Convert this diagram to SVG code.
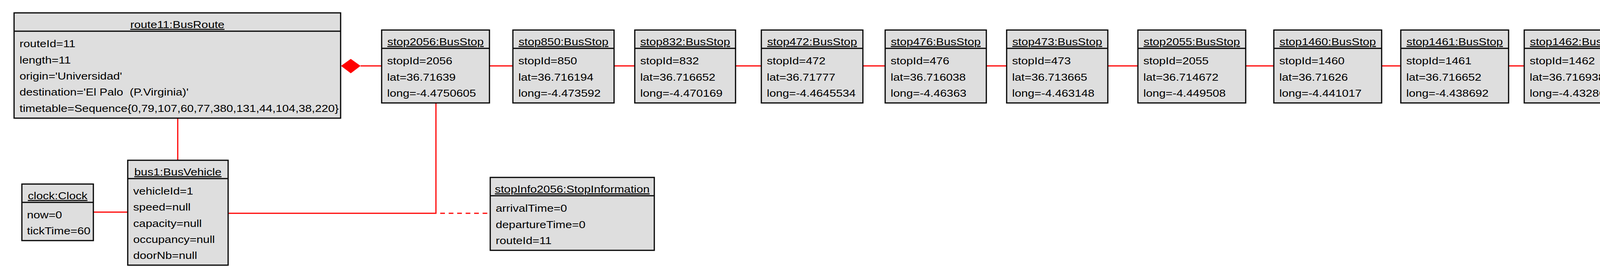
<svg xmlns="http://www.w3.org/2000/svg" width="4512" height="695" viewBox="0 0 4512 695">
<style>
.box{fill:#dedede;stroke:#000;stroke-width:3}
.div{stroke:#000;stroke-width:3}
text{font-family:"Liberation Sans",Arial,Helvetica,sans-serif;font-size:26.5px;fill:#000}
.ttl{text-anchor:middle;text-decoration:underline}
.lnk{stroke:#f00;stroke-width:3;fill:none}
.dsh{stroke-dasharray:12 9.7}
</style>
<rect x="0" y="0" width="4512" height="695" fill="#fff"/>
<g id="connectors">
<polygon points="873,169 898,151 923,169 898,188" fill="#f00"/>
<line class="lnk" x1="923" y1="169" x2="977" y2="169"/>
<line class="lnk" x1="1253" y1="169" x2="1313" y2="169"/>
<line class="lnk" x1="1572" y1="169" x2="1625" y2="169"/>
<line class="lnk" x1="1883" y1="169" x2="1949" y2="169"/>
<line class="lnk" x1="2209" y1="169" x2="2266" y2="169"/>
<line class="lnk" x1="2525" y1="169" x2="2577" y2="169"/>
<line class="lnk" x1="2836" y1="169" x2="2913" y2="169"/>
<line class="lnk" x1="3189" y1="169" x2="3261" y2="169"/>
<line class="lnk" x1="3537" y1="169" x2="3586" y2="169"/>
<line class="lnk" x1="3862" y1="169" x2="3902" y2="169"/>
<line class="lnk" x1="4178" y1="169" x2="4225" y2="169"/>
<line class="lnk" x1="455" y1="303" x2="455" y2="411"/>
<line class="lnk" x1="239" y1="544" x2="327" y2="544"/>
<polyline class="lnk" points="584,547 1116,547 1116,264"/>
<line class="lnk dsh" x1="1127" y1="547" x2="1255" y2="547"/>
</g>
<g id="route11">
<rect class="box" x="36" y="33" width="836" height="270"/>
<line class="div" x1="36" y1="80" x2="872" y2="80"/>
<g transform="translate(36 0) scale(1.14 1)">
<text class="ttl" x="366.7" y="72">route11:BusRoute</text>
<text x="12.3" y="121">routeId=11</text>
<text x="12.3" y="163">length=11</text>
<text x="12.3" y="204">origin='Universidad'</text>
<text x="12.3" y="245" xml:space="preserve">destination='El Palo  (P.Virginia)'</text>
<text x="12.3" y="287">timetable=Sequence{0,79,107,60,77,380,131,44,104,38,220}</text>
</g>
</g>
<g id="bus1">
<rect class="box" x="327" y="411" width="257" height="269"/>
<line class="div" x1="327" y1="458" x2="584" y2="458"/>
<g transform="translate(327 0) scale(1.14 1)">
<text class="ttl" x="112.7" y="450">bus1:BusVehicle</text>
<text x="12.3" y="499">vehicleId=1</text>
<text x="12.3" y="540">speed=null</text>
<text x="12.3" y="582">capacity=null</text>
<text x="12.3" y="623">occupancy=null</text>
<text x="12.3" y="664">doorNb=null</text>
</g>
</g>
<g id="clock">
<rect class="box" x="56" y="472" width="183" height="145"/>
<line class="div" x1="56" y1="519" x2="239" y2="519"/>
<g transform="translate(56 0) scale(1.14 1)">
<text class="ttl" x="80.3" y="511">clock:Clock</text>
<text x="11.4" y="560">now=0</text>
<text x="11.4" y="601">tickTime=60</text>
</g>
</g>
<g id="stopInfo2056">
<rect class="box" x="1255" y="455" width="420" height="187"/>
<line class="div" x1="1255" y1="502" x2="1675" y2="502"/>
<g transform="translate(1255 0) scale(1.14 1)">
<text class="ttl" x="184.2" y="494">stopInfo2056:StopInformation</text>
<text x="12.3" y="543">arrivalTime=0</text>
<text x="12.3" y="585">departureTime=0</text>
<text x="12.3" y="626">routeId=11</text>
</g>
</g>
<g id="stop2056">
<rect class="box" x="977" y="77" width="276" height="187"/>
<line class="div" x1="977" y1="124" x2="1253" y2="124"/>
<g transform="translate(977 0) scale(1.14 1)">
<text class="ttl" x="121.05" y="116">stop2056:BusStop</text>
<text x="12.3" y="165">stopId=2056</text>
<text x="12.3" y="207">lat=36.71639</text>
<text x="12.3" y="248">long=-4.4750605</text>
</g>
</g>
<g id="stop850">
<rect class="box" x="1313" y="77" width="259" height="187"/>
<line class="div" x1="1313" y1="124" x2="1572" y2="124"/>
<g transform="translate(1313 0) scale(1.14 1)">
<text class="ttl" x="113.6" y="116">stop850:BusStop</text>
<text x="12.3" y="165">stopId=850</text>
<text x="12.3" y="207">lat=36.716194</text>
<text x="12.3" y="248">long=-4.473592</text>
</g>
</g>
<g id="stop832">
<rect class="box" x="1625" y="77" width="258" height="187"/>
<line class="div" x1="1625" y1="124" x2="1883" y2="124"/>
<g transform="translate(1625 0) scale(1.14 1)">
<text class="ttl" x="113.2" y="116">stop832:BusStop</text>
<text x="12.3" y="165">stopId=832</text>
<text x="12.3" y="207">lat=36.716652</text>
<text x="12.3" y="248">long=-4.470169</text>
</g>
</g>
<g id="stop472">
<rect class="box" x="1949" y="77" width="260" height="187"/>
<line class="div" x1="1949" y1="124" x2="2209" y2="124"/>
<g transform="translate(1949 0) scale(1.14 1)">
<text class="ttl" x="114" y="116">stop472:BusStop</text>
<text x="12.3" y="165">stopId=472</text>
<text x="12.3" y="207">lat=36.71777</text>
<text x="12.3" y="248">long=-4.4645534</text>
</g>
</g>
<g id="stop476">
<rect class="box" x="2266" y="77" width="259" height="187"/>
<line class="div" x1="2266" y1="124" x2="2525" y2="124"/>
<g transform="translate(2266 0) scale(1.14 1)">
<text class="ttl" x="113.6" y="116">stop476:BusStop</text>
<text x="12.3" y="165">stopId=476</text>
<text x="12.3" y="207">lat=36.716038</text>
<text x="12.3" y="248">long=-4.46363</text>
</g>
</g>
<g id="stop473">
<rect class="box" x="2577" y="77" width="259" height="187"/>
<line class="div" x1="2577" y1="124" x2="2836" y2="124"/>
<g transform="translate(2577 0) scale(1.14 1)">
<text class="ttl" x="113.6" y="116">stop473:BusStop</text>
<text x="12.3" y="165">stopId=473</text>
<text x="12.3" y="207">lat=36.713665</text>
<text x="12.3" y="248">long=-4.463148</text>
</g>
</g>
<g id="stop2055">
<rect class="box" x="2913" y="77" width="276" height="187"/>
<line class="div" x1="2913" y1="124" x2="3189" y2="124"/>
<g transform="translate(2913 0) scale(1.14 1)">
<text class="ttl" x="121.05" y="116">stop2055:BusStop</text>
<text x="12.3" y="165">stopId=2055</text>
<text x="12.3" y="207">lat=36.714672</text>
<text x="12.3" y="248">long=-4.449508</text>
</g>
</g>
<g id="stop1460">
<rect class="box" x="3261" y="77" width="276" height="187"/>
<line class="div" x1="3261" y1="124" x2="3537" y2="124"/>
<g transform="translate(3261 0) scale(1.14 1)">
<text class="ttl" x="121.05" y="116">stop1460:BusStop</text>
<text x="12.3" y="165">stopId=1460</text>
<text x="12.3" y="207">lat=36.71626</text>
<text x="12.3" y="248">long=-4.441017</text>
</g>
</g>
<g id="stop1461">
<rect class="box" x="3586" y="77" width="276" height="187"/>
<line class="div" x1="3586" y1="124" x2="3862" y2="124"/>
<g transform="translate(3586 0) scale(1.14 1)">
<text class="ttl" x="121.05" y="116">stop1461:BusStop</text>
<text x="12.3" y="165">stopId=1461</text>
<text x="12.3" y="207">lat=36.716652</text>
<text x="12.3" y="248">long=-4.438692</text>
</g>
</g>
<g id="stop1462">
<rect class="box" x="3902" y="77" width="276" height="187"/>
<line class="div" x1="3902" y1="124" x2="4178" y2="124"/>
<g transform="translate(3902 0) scale(1.14 1)">
<text class="ttl" x="121.05" y="116">stop1462:BusStop</text>
<text x="12.3" y="165">stopId=1462</text>
<text x="12.3" y="207">lat=36.716938</text>
<text x="12.3" y="248">long=-4.432869</text>
</g>
</g>
<g id="stop1463">
<rect class="box" x="4225" y="77" width="275" height="187"/>
<line class="div" x1="4225" y1="124" x2="4500" y2="124"/>
<g transform="translate(4225 0) scale(1.14 1)">
<text class="ttl" x="120.6" y="116">stop1463:BusStop</text>
<text x="12.3" y="165">stopId=1463</text>
<text x="12.3" y="207">lat=36.716763</text>
<text x="12.3" y="248">long=-4.4305334</text>
</g>
</g>
</svg>
